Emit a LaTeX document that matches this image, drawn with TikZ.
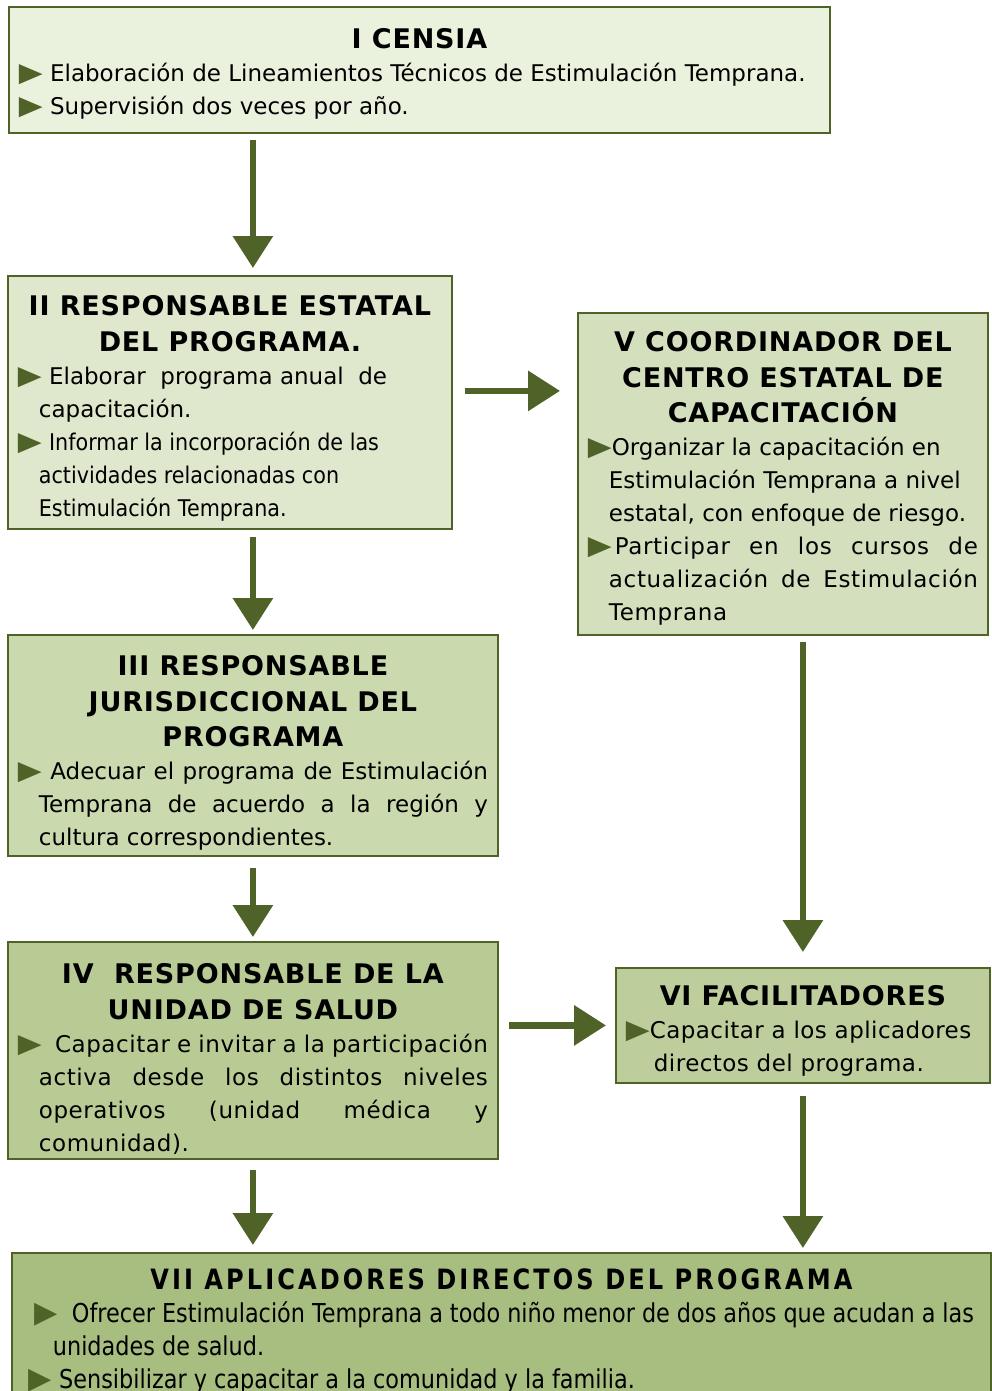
\documentclass[tikz,border=0pt]{standalone}
\usepackage{fontspec}
\setmainfont{DejaVu Sans}
\newfontfamily\narrowfont{DejaVu Sans}[FakeStretch=0.9]
\newfontfamily\condfont{DejaVu Sans}[FakeStretch=0.86]
\usetikzlibrary{arrows.meta}
\definecolor{darkolive}{HTML}{4F6228}
\definecolor{fillI}{HTML}{EAF1DD}
\definecolor{fillII}{HTML}{DFE8CD}
\definecolor{fillIII}{HTML}{CBD9AF}
\definecolor{fillIV}{HTML}{B9CB94}
\definecolor{fillV}{HTML}{D4E0BD}
\definecolor{fillVI}{HTML}{BDCD9B}
\definecolor{fillVII}{HTML}{A8BD80}
\newcommand*{\bul}{{\color{darkolive}\scalebox{1.35}[1.15]{▶}}}
\newcommand*{\ttl}[1]{{\centering\fontsize{27}{35.5}\selectfont
  \bfseries\addfontfeature{LetterSpace=3}#1\par}}
\newcommand*{\itm}[1]{\par\noindent\hangindent=21pt\hangafter=1\bul#1}

\begin{document}
\begin{tikzpicture}[x=1pt,y=-1pt,
  box/.style={draw=darkolive,line width=1.8pt,anchor=north west,
    inner xsep=10pt,inner ysep=0pt,align=justify,
    font=\fontsize{23}{33}\selectfont},
  flow/.style={draw=darkolive,line width=6.5pt,
    -{Triangle[width=39pt,length=32pt]}}]
\useasboundingbox (0,0) rectangle (992,1391);
% Boxes, top to bottom (text height = top to first baseline)
\node[box,fill=fillI,minimum width=821pt,text width=801pt,text height=42pt,text depth=84pt] (I) at (8,6)
  {\ttl{I CENSIA}
   \itm{\ Elaboración de Lineamientos Técnicos de Estimulación Temprana.}
   \itm{\ Supervisión dos veces por año.}\par};
\node[box,fill=fillII,minimum width=444pt,text width=424pt,text height=40pt,text depth=213pt] (II) at (7,275)
  {\ttl{II RESPONSABLE ESTATAL\\DEL PROGRAMA.}
   \itm{\ Elaborar\ \ programa anual\ \ de\newline capacitación.}
   \itm{\ {\narrowfont Informar la incorporación de las\newline actividades relacionadas con\newline Estimulación Temprana.}}\par};
\node[box,fill=fillV,minimum width=410pt,text width=390pt,text height=39pt,text depth=283pt] (V) at (577,312)
  {\ttl{V COORDINADOR DEL\\CENTRO ESTATAL DE\\CAPACITACIÓN}
   \itm{Organizar la capacitación en\newline Estimulación Temprana a nivel\newline estatal, con enfoque de riesgo.}
   \itm{\hspace*{3pt}{\addfontfeature{LetterSpace=3}Participar en los cursos de\linebreak actualización de Estimulación\linebreak Temprana}}\par};
\node[box,fill=fillIII,minimum width=490pt,text width=470pt,text height=41pt,text depth=180pt] (III) at (7,634)
  {\ttl{III RESPONSABLE\\JURISDICCIONAL DEL\\PROGRAMA}
   \itm{\ Adecuar el programa de Estimulación\linebreak Temprana de acuerdo a la región y\linebreak cultura correspondientes.}\par};
\node[box,fill=fillIV,minimum width=490pt,text width=470pt,text height=42pt,text depth=175pt] (IV) at (7,941)
  {\ttl{IV\ \ RESPONSABLE DE LA\\UNIDAD DE SALUD}
   \itm{\ \ {\addfontfeature{LetterSpace=2.5}Capacitar e invitar a la participación\linebreak activa desde los distintos niveles\linebreak operativos (unidad médica y\linebreak comunidad).}}\par};
\node[box,fill=fillVI,minimum width=374pt,text width=354pt,text height=38pt,text depth=77pt] (VI) at (615,967)
  {\ttl{VI FACILITADORES}
   \par\noindent\hangindent=28pt\hangafter=1\bul{\addfontfeature{LetterSpace=2}Capacitar a los aplicadores\newline directos del programa.}\par};
\node[box,fill=fillVII,minimum width=979pt,text width=945pt,text height=37pt,text depth=150pt,
      font=\condfont\fontsize{26}{33}\selectfont] (VII) at (11,1252)
  {{\centering\fontsize{28}{33}\selectfont\bfseries\addfontfeature{LetterSpace=11}
    VII APLICADORES DIRECTOS DEL PROGRAMA\par}
   \par\noindent\hangindent=24pt\hangafter=1\hspace*{6pt}\bul\ \ Ofrecer Estimulación Temprana a todo niño menor de dos años que acudan a las\linebreak unidades de salud.
   \itm{\ Sensibilizar y capacitar a la comunidad y la familia.}\par};
% Connectors
\coordinate (IIout) at ([yshift=11.5pt]II.east);
\draw[flow,shorten <=6pt,shorten >=7pt] (I.south -| III.north) -- (II.north -| III.north);
\draw[flow,shorten <=7pt,shorten >=4pt] (II.south -| III.north) -- (III.north);
\draw[flow,shorten <=11pt,shorten >=4pt] (III.south) -- (IV.north);
\draw[flow,shorten <=10pt,shorten >=7pt] (IV.south) -- (IV.south |- VII.north);
\draw[flow,shorten <=12pt,shorten >=17pt] (IIout) -- (IIout -| V.west);
\draw[flow,shorten <=10pt,shorten >=9pt] (IV.east |- VI.west) -- (VI.west);
\draw[flow,shorten <=6pt,shorten >=15pt] (V.south -| VI.north) -- (VI.north);
\draw[flow,shorten <=12pt,shorten >=4pt] (VI.south) -- (VI.south |- VII.north);
\end{tikzpicture}
\end{document}
